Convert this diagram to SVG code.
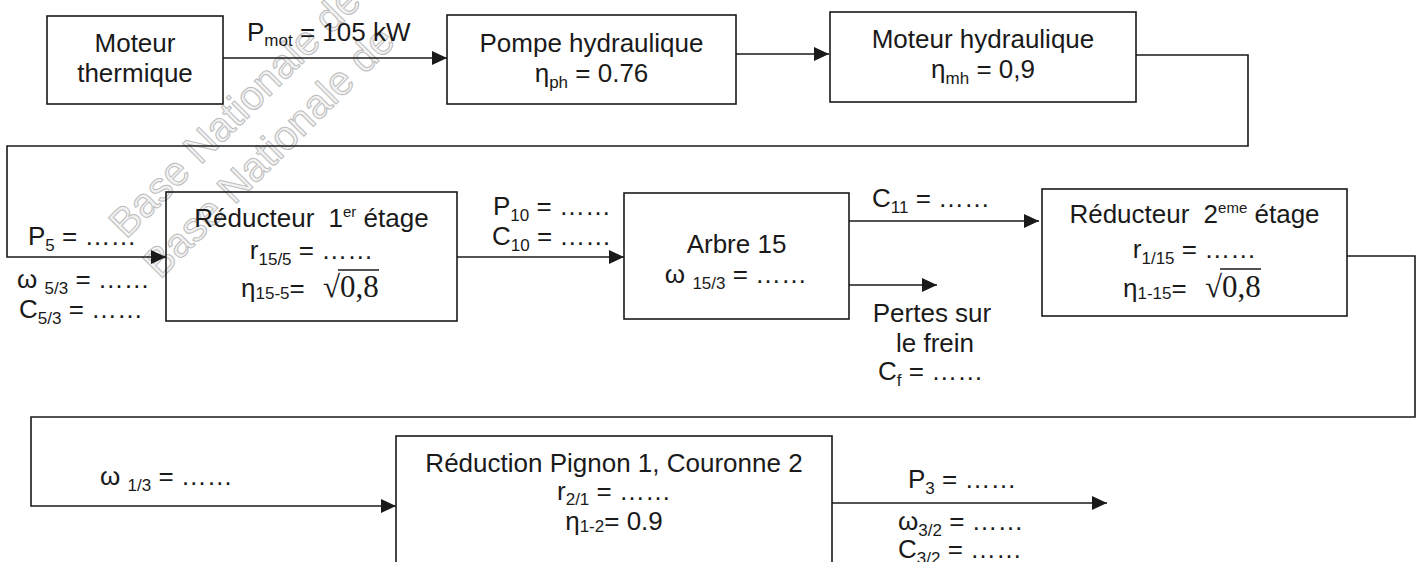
<svg xmlns="http://www.w3.org/2000/svg" width="1419" height="562" viewBox="0 0 1419 562">
  <defs>
    <style>
      .box { fill: none; stroke: #1a1a1a; stroke-width: 1.6; }
      .wire { fill: none; stroke: #1a1a1a; stroke-width: 1.6; }
      .t { font-family: "Liberation Sans", Arial, sans-serif; font-size: 26px; fill: #1a1a1a; }
      .m { text-anchor: middle; }
      .s { font-size: 17px; }
      .sup { font-size: 15px; }
      .r { font-family: "Liberation Serif", "Times New Roman", serif; font-size: 31px; fill: #1a1a1a; }
      .wm { font-family: "Liberation Sans", Arial, sans-serif; font-size: 41px; fill: #f2f2f2; stroke: #bcbcbc; stroke-width: 1; }
      .bar { stroke: #1a1a1a; stroke-width: 1.4; }
    </style>
    <marker id="arrow" markerUnits="userSpaceOnUse" markerWidth="15" markerHeight="14" refX="15" refY="7" orient="auto">
      <path d="M0,0 L15,7 L0,14 Z" fill="#1a1a1a"/>
    </marker>
  </defs>

  <rect width="1419" height="562" fill="#ffffff"/>

  <!-- stamp across the upper left -->
  <g id="stamp">
    <text class="wm" transform="translate(126,240) rotate(-45)">Base Nationale de</text>
    <text class="wm" transform="translate(160,280) rotate(-45)">Base Nationale de</text>
  </g>

  <!-- connectors -->
  <g id="connectors">
    <path class="wire" d="M223,58 H447" marker-end="url(#arrow)"/>
    <path class="wire" d="M736,54 H829" marker-end="url(#arrow)"/>
    <path class="wire" d="M1136,55 H1248 V146 H7 V257 H166" marker-end="url(#arrow)"/>
    <path class="wire" d="M457,257 H624" marker-end="url(#arrow)"/>
    <path class="wire" d="M849,221 H1039" marker-end="url(#arrow)"/>
    <path class="wire" d="M849,285 H937" marker-end="url(#arrow)"/>
    <path class="wire" d="M1347,256 H1415 V417 H31 V506 H396" marker-end="url(#arrow)"/>
    <path class="wire" d="M832,503 H1107" marker-end="url(#arrow)"/>
  </g>

  <!-- connector labels -->
  <g id="labels">
    <text class="t" x="247" y="41">P<tspan class="s" dy="5">mot</tspan><tspan dy="-5"> = 105 kW</tspan></text>

    <text class="t" x="28" y="245">P<tspan class="s" dy="6">5</tspan><tspan dy="-6"> = ……</tspan></text>
    <text class="t" x="17" y="288">ω <tspan class="s" dy="6">5/3</tspan><tspan dy="-6"> = ……</tspan></text>
    <text class="t" x="19" y="318">C<tspan class="s" dy="6">5/3</tspan><tspan dy="-6"> = ……</tspan></text>

    <text class="t" x="493" y="215">P<tspan class="s" dy="6">10</tspan><tspan dy="-6"> = ……</tspan></text>
    <text class="t" x="492" y="245">C<tspan class="s" dy="6">10</tspan><tspan dy="-6"> = ……</tspan></text>

    <text class="t" x="872" y="207">C<tspan class="s" dy="6">11</tspan><tspan dy="-6"> = ……</tspan></text>
    <text class="t m" x="932" y="322">Pertes sur</text>
    <text class="t m" x="935" y="352">le frein</text>
    <text class="t" x="878" y="380">C<tspan class="s" dy="6">f</tspan><tspan dy="-6"> = ……</tspan></text>

    <text class="t" x="100" y="485">ω <tspan class="s" dy="6">1/3</tspan><tspan dy="-6"> = ……</tspan></text>

    <text class="t" x="908" y="488">P<tspan class="s" dy="6">3</tspan><tspan dy="-6"> = ……</tspan></text>
    <text class="t" x="898" y="530">ω<tspan class="s" dy="6">3/2</tspan><tspan dy="-6"> = ……</tspan></text>
    <text class="t" x="898" y="558">C<tspan class="s" dy="6">3/2</tspan><tspan dy="-6"> = ……</tspan></text>
  </g>

  <!-- blocks -->
  <g id="moteur-thermique">
    <rect class="box" x="47" y="16" width="176" height="88"/>
    <text class="t m" x="135" y="52">Moteur</text>
    <text class="t m" x="135" y="82">thermique</text>
  </g>

  <g id="pompe-hydraulique">
    <rect class="box" x="447" y="15" width="289" height="89"/>
    <text class="t m" x="591.5" y="52">Pompe hydraulique</text>
    <text class="t m" x="591.5" y="82">η<tspan class="s" dy="6">ph</tspan><tspan dy="-6"> = 0.76</tspan></text>
  </g>

  <g id="moteur-hydraulique">
    <rect class="box" x="830" y="12" width="306" height="90"/>
    <text class="t m" x="983" y="48">Moteur hydraulique</text>
    <text class="t m" x="983" y="78">η<tspan class="s" dy="6">mh</tspan><tspan dy="-6"> = 0,9</tspan></text>
  </g>

  <g id="reducteur-1">
    <rect class="box" x="166" y="192" width="291" height="129"/>
    <text class="t m" x="311.5" y="227">Réducteur <tspan dx="7">1</tspan><tspan class="sup" dy="-10">er</tspan><tspan dy="10"> étage</tspan></text>
    <text class="t m" x="311.5" y="259">r<tspan class="s" dy="6">15/5</tspan><tspan dy="-6"> = ……</tspan></text>
    <text class="t" x="241" y="297">η<tspan class="s" dy="2">15-5</tspan><tspan dy="-2">=</tspan></text>
    <text class="r" x="323" y="297">√0,8</text>
    <line class="bar" x1="338" y1="270" x2="379" y2="270"/>
  </g>

  <g id="arbre-15">
    <rect class="box" x="624" y="193" width="225" height="126"/>
    <text class="t m" x="736.5" y="253">Arbre 15</text>
    <text class="t m" x="736" y="283">ω <tspan class="s" dy="6">15/3</tspan><tspan dy="-6"> = ……</tspan></text>
  </g>

  <g id="reducteur-2">
    <rect class="box" x="1042" y="189" width="305" height="127"/>
    <text class="t m" x="1194.5" y="223">Réducteur <tspan dx="7">2</tspan><tspan class="sup" dy="-10">eme</tspan><tspan dy="10"> étage</tspan></text>
    <text class="t m" x="1194.5" y="258">r<tspan class="s" dy="6">1/15</tspan><tspan dy="-6"> = ……</tspan></text>
    <text class="t" x="1123" y="297">η<tspan class="s" dy="2">1-15</tspan><tspan dy="-2">=</tspan></text>
    <text class="r" x="1205" y="297">√0,8</text>
    <line class="bar" x1="1220" y1="269" x2="1261" y2="269"/>
  </g>

  <g id="reduction-pignon-couronne">
    <rect class="box" x="396" y="436" width="436" height="140"/>
    <text class="t m" x="614" y="472">Réduction Pignon 1, Couronne 2</text>
    <text class="t m" x="614" y="500">r<tspan class="s" dy="5">2/1</tspan><tspan dy="-5"> = ……</tspan></text>
    <text class="t m" x="614" y="530">η<tspan class="s" dy="2">1-2</tspan><tspan dy="-2">= 0.9</tspan></text>
  </g>
</svg>
